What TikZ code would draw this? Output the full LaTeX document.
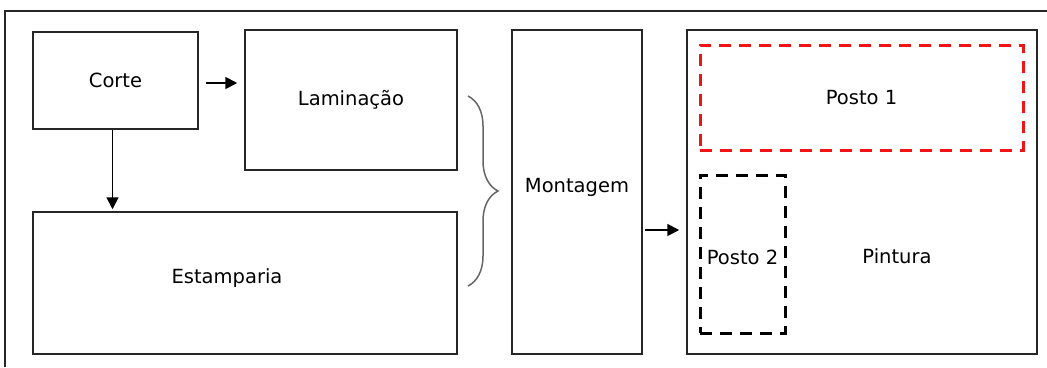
\documentclass[tikz,border=0pt]{standalone}
\usepackage{fontspec}
\setmainfont{DejaVu Sans}
\usetikzlibrary{arrows.meta,decorations.pathreplacing,calc}
\definecolor{postored}{RGB}{240,20,20}
\tikzset{
  box/.style={draw=black!85, line width=1.5pt, rectangle, inner sep=0pt, font=\fontsize{19.5}{22}\selectfont},
  dbox/.style={draw, line width=3pt, dash pattern=on 12pt off 8pt, rectangle, inner sep=0pt, font=\fontsize{19.5}{22}\selectfont},
  arr/.style={line width=1.8pt, -{Triangle[length=12pt,width=12pt]}},
  lbl/.style={font=\fontsize{19.5}{22}\selectfont, inner sep=0pt}
}
\begin{document}
\begin{tikzpicture}[x=1pt,y=-1pt]
\useasboundingbox (0,0) rectangle (1047,367);
% outer frame
\draw[line width=1.5pt, black!85] (5,367) -- (5,11) -- (1047,11);
\node[box, minimum width=165pt, minimum height=97pt] (corte) at (115.5,80.5) {Corte};
\node[box, minimum width=212pt, minimum height=140pt] (lam) at (351,100) {Laminação};
\node[box, minimum width=424pt, minimum height=142pt] (est) at (245,283) {};
\node[lbl] (esttxt) at (227,278) {Estamparia};
\node[box, minimum width=130pt, minimum height=324pt] (mont) at (577,192) {};
\node[lbl] (monttxt) at (577,187) {Montagem};
\node[box, minimum width=350pt, minimum height=324pt] (pint) at (862,192) {};
\node[lbl] (pinttxt) at (897,256) {Pintura};
\node[dbox, draw=postored, minimum width=323pt, minimum height=105pt] (p1) at (861.5,97.5) {Posto 1};
\node[dbox, draw=black, minimum width=85pt, minimum height=158pt] (p2) at (742.5,254) {};
\node[lbl] (p2txt) at (742.5,257) {Posto 2};
% arrows
\draw[arr, shorten <=7pt, shorten >=7pt] ([yshift=-2.5pt]corte.east) -- ([yshift=-2.5pt]corte.east -| lam.west);
\draw[arr, shorten >=2pt] ([xshift=-3pt]corte.south) -- ([xshift=-3pt]corte.south |- est.north);
\draw[arr, shorten <=2pt, shorten >=7pt] ([yshift=-38pt]mont.east) -- ([yshift=-38pt]mont.east -| pint.west);
% brace
\coordinate (bt) at (468,96);
\coordinate (bb) at (468,286);
\draw[black!60, line width=1.5pt, decorate, decoration={brace, amplitude=30pt, aspect=0.5}] (bt) -- (bb);
\end{tikzpicture}
\end{document}
